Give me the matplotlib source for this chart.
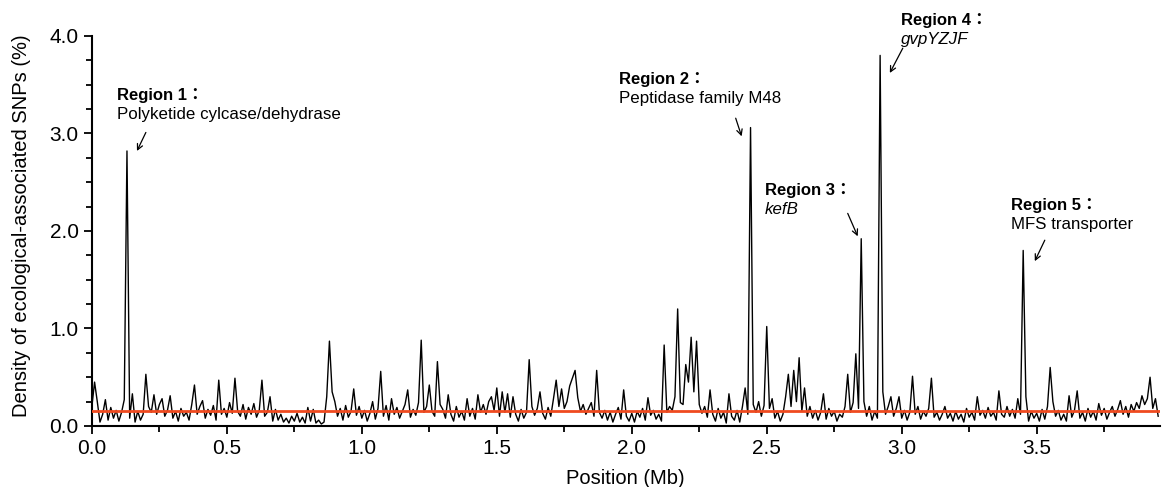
import numpy as np
import matplotlib
matplotlib.use("Agg")
import matplotlib.pyplot as plt
from matplotlib.ticker import MultipleLocator, FormatStrFormatter

plt.rcParams['font.family'] = ['Liberation Sans', 'Noto Sans CJK JP', 'DejaVu Sans']

# SNP density (%) in consecutive 0.01-Mb windows starting at 0.00 Mb
step_mb = 0.01
density = [
    0.20, 0.45, 0.25, 0.04, 0.12, 0.27, 0.06, 0.19, 0.08, 0.16,   # 0.0
    0.05, 0.14, 0.27, 2.82, 0.08, 0.33, 0.04, 0.15, 0.06, 0.12,   # 0.1
    0.53, 0.20, 0.14, 0.32, 0.12, 0.22, 0.28, 0.10, 0.16, 0.31,   # 0.2
    0.08, 0.15, 0.05, 0.18, 0.10, 0.14, 0.06, 0.22, 0.42, 0.12,   # 0.3
    0.20, 0.26, 0.08, 0.17, 0.11, 0.21, 0.06, 0.47, 0.12, 0.18,   # 0.4
    0.09, 0.24, 0.13, 0.49, 0.15, 0.10, 0.22, 0.07, 0.19, 0.12,   # 0.5
    0.23, 0.09, 0.16, 0.47, 0.10, 0.14, 0.30, 0.05, 0.17, 0.06,   # 0.6
    0.12, 0.04, 0.08, 0.03, 0.10, 0.05, 0.13, 0.04, 0.09, 0.03,   # 0.7
    0.19, 0.05, 0.17, 0.03, 0.06, 0.02, 0.04, 0.30, 0.87, 0.35,   # 0.8
    0.25, 0.10, 0.18, 0.06, 0.21, 0.09, 0.15, 0.38, 0.11, 0.20,   # 0.9
    0.08, 0.16, 0.05, 0.13, 0.25, 0.07, 0.18, 0.56, 0.10, 0.21,   # 1.0
    0.06, 0.28, 0.12, 0.19, 0.08, 0.15, 0.22, 0.37, 0.09, 0.17,   # 1.1
    0.11, 0.24, 0.88, 0.14, 0.20, 0.42, 0.15, 0.10, 0.66, 0.22,   # 1.2
    0.17, 0.08, 0.32, 0.12, 0.05, 0.20, 0.09, 0.15, 0.06, 0.28,   # 1.3
    0.10, 0.18, 0.07, 0.32, 0.14, 0.22, 0.12, 0.25, 0.30, 0.16,   # 1.4
    0.39, 0.10, 0.35, 0.14, 0.33, 0.09, 0.30, 0.12, 0.05, 0.17,   # 1.5
    0.08, 0.14, 0.68, 0.20, 0.11, 0.18, 0.35, 0.13, 0.07, 0.19,   # 1.6
    0.10, 0.28, 0.47, 0.20, 0.38, 0.18, 0.25, 0.41, 0.49, 0.57,   # 1.7
    0.29, 0.15, 0.22, 0.12, 0.18, 0.24, 0.10, 0.57, 0.14, 0.08,   # 1.8
    0.16, 0.06, 0.14, 0.04, 0.12, 0.19, 0.07, 0.37, 0.10, 0.05,   # 1.9
    0.13, 0.04, 0.15, 0.09, 0.18, 0.06, 0.29, 0.11, 0.16, 0.07,   # 2.0
    0.12, 0.05, 0.83, 0.14, 0.20, 0.16, 0.30, 1.20, 0.24, 0.22,   # 2.1
    0.63, 0.45, 0.91, 0.35, 0.87, 0.22, 0.13, 0.20, 0.09, 0.37,   # 2.2
    0.12, 0.05, 0.18, 0.08, 0.14, 0.03, 0.33, 0.10, 0.06, 0.16,   # 2.3
    0.04, 0.20, 0.39, 0.12, 3.06, 0.22, 0.14, 0.25, 0.10, 0.21,   # 2.4
    1.02, 0.18, 0.28, 0.08, 0.15, 0.05, 0.12, 0.30, 0.53, 0.20,   # 2.5
    0.57, 0.25, 0.70, 0.15, 0.39, 0.10, 0.20, 0.08, 0.16, 0.06,   # 2.6
    0.14, 0.33, 0.07, 0.18, 0.10, 0.15, 0.05, 0.12, 0.09, 0.20,   # 2.7
    0.53, 0.14, 0.24, 0.74, 0.18, 1.92, 0.25, 0.10, 0.20, 0.06,   # 2.8
    0.15, 0.08, 3.80, 0.35, 0.12, 0.20, 0.30, 0.10, 0.18, 0.30,   # 2.9
    0.08, 0.16, 0.06, 0.14, 0.51, 0.12, 0.20, 0.07, 0.15, 0.10,   # 3.0
    0.18, 0.49, 0.09, 0.14, 0.06, 0.12, 0.20, 0.08, 0.13, 0.05,   # 3.1
    0.15, 0.07, 0.12, 0.04, 0.18, 0.09, 0.14, 0.06, 0.30, 0.11,   # 3.2
    0.16, 0.08, 0.19, 0.10, 0.14, 0.06, 0.36, 0.12, 0.09, 0.20,   # 3.3
    0.10, 0.17, 0.08, 0.28, 0.12, 1.80, 0.30, 0.05, 0.15, 0.08,   # 3.4
    0.13, 0.05, 0.17, 0.07, 0.20, 0.60, 0.25, 0.10, 0.16, 0.06,   # 3.5
    0.12, 0.05, 0.31, 0.09, 0.16, 0.36, 0.08, 0.14, 0.05, 0.18,   # 3.6
    0.09, 0.15, 0.06, 0.23, 0.11, 0.18, 0.07, 0.14, 0.20, 0.10,   # 3.7
    0.17, 0.26, 0.12, 0.20, 0.09, 0.22, 0.15, 0.24, 0.18, 0.31,   # 3.8
    0.22, 0.28, 0.50, 0.18, 0.28, 0.10,                           # 3.9
]
threshold = 0.15

region_titles = ["Region 1：", "Region 2：", "Region 3：", "Region 4：", "Region 5："]
region_genes = ["Polyketide cylcase/dehydrase", "Peptidase family M48", "kefB", "gvpYZJF", "MFS transporter"]
region_italic = [False, False, True, True, False]

positions = np.arange(len(density)) * step_mb

fig = plt.figure(figsize=(11.63, 4.87), dpi=100)
ax = fig.add_axes([0.079, 0.1253, 0.918, 0.801])

ax.plot(positions, density, color='black', lw=1.0, zorder=2)
ax.axhline(threshold, color='#ef4a1f', lw=2.0, zorder=3)

ax.set_xlim(0, 3.955)
ax.set_ylim(0, 4.0)
for s in ['top', 'right']:
    ax.spines[s].set_visible(False)
for s in ['left', 'bottom']:
    ax.spines[s].set_linewidth(1.5)

ax.xaxis.set_major_locator(MultipleLocator(0.5))
ax.xaxis.set_minor_locator(MultipleLocator(0.25))
ax.yaxis.set_major_locator(MultipleLocator(1.0))
ax.yaxis.set_minor_locator(MultipleLocator(0.25))
ax.xaxis.set_major_formatter(FormatStrFormatter('%.1f'))
ax.yaxis.set_major_formatter(FormatStrFormatter('%.1f'))
ax.tick_params(which='major', direction='out', length=6, width=1.3, labelsize=15)
ax.tick_params(which='minor', direction='out', length=4, width=1.3)

ax.set_xlabel('Position (Mb)', fontsize=14.5, labelpad=8)
ax.set_ylabel('Density of ecological-associated SNPs (%)', fontsize=14.5)
ax.yaxis.set_label_coords(-0.057, 0.513)

# label anchors (Mb, %) and arrow tail/head
text_xy = [(0.093, 3.39), (1.952, 3.555), (2.493, 2.417), (2.996, 4.16), (3.404, 2.264)]
line_gap = 0.195
arrows = [((0.200, 3.01), (0.167, 2.82)),
          ((2.385, 3.156), (2.407, 2.97)),
          ((2.800, 2.18), (2.837, 1.945)),
          ((3.004, 3.874), (2.956, 3.62)),
          ((3.530, 1.905), (3.493, 1.69))]

for title, gene, ital, (tx, ty), (tail, head) in zip(region_titles, region_genes, region_italic, text_xy, arrows):
    ax.text(tx, ty, title, fontsize=12, fontweight='bold', va='center', ha='left', clip_on=False)
    ax.text(tx, ty - line_gap, gene, fontsize=12.2, style='italic' if ital else 'normal',
            va='center', ha='left', clip_on=False)
    ax.annotate('', xy=head, xytext=tail,
                arrowprops=dict(arrowstyle='->', lw=0.9, color='black', mutation_scale=10,
                                shrinkA=0, shrinkB=0),
                annotation_clip=False)

fig.savefig('out.png', dpi=100)
